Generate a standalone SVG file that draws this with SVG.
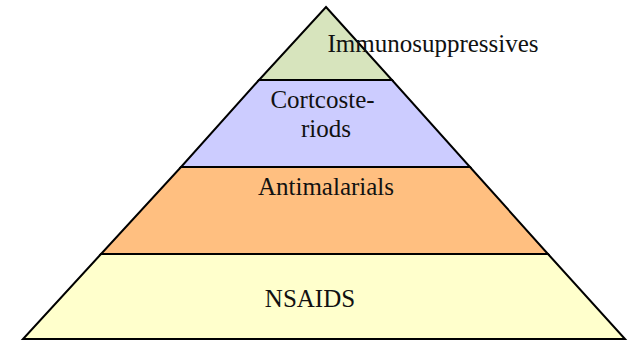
<svg xmlns="http://www.w3.org/2000/svg" width="629" height="341" viewBox="0 0 629 341">
<style>
.layer{stroke:#000;stroke-width:2;stroke-linejoin:miter}
.t{font-family:'Liberation Serif','Times New Roman',serif;font-size:25px;fill:#111;text-anchor:middle}
</style>
<rect width="629" height="341" fill="#fff"/>
<g id="nsaids">
<polygon class="layer" fill="#FFFFCC" points="101,254 548,254 625,339 23,339"/>
<text class="t" x="310" y="307" font-family="Liberation Serif, serif">NSAIDS</text>
</g>
<g id="antimalarials">
<polygon class="layer" fill="#FFBF80" points="181,167 470,167 548,254 101,254"/>
<text class="t" x="326" y="195" font-family="Liberation Serif, serif">Antimalarials</text>
</g>
<g id="corticosteroids">
<polygon class="layer" fill="#CCCCFF" points="259,80 392,80 470,167 181,167"/>
<text class="t" x="322.5" y="108" font-family="Liberation Serif, serif">Cortcoste-</text>
<text class="t" x="326" y="137" font-family="Liberation Serif, serif">riods</text>
</g>
<g id="immunosuppressives">
<polygon class="layer" fill="#D7E4BD" points="326,7 392,80 259,80"/>
<text class="t" x="433" y="52" font-family="Liberation Serif, serif">Immunosuppressives</text>
</g>
</svg>
